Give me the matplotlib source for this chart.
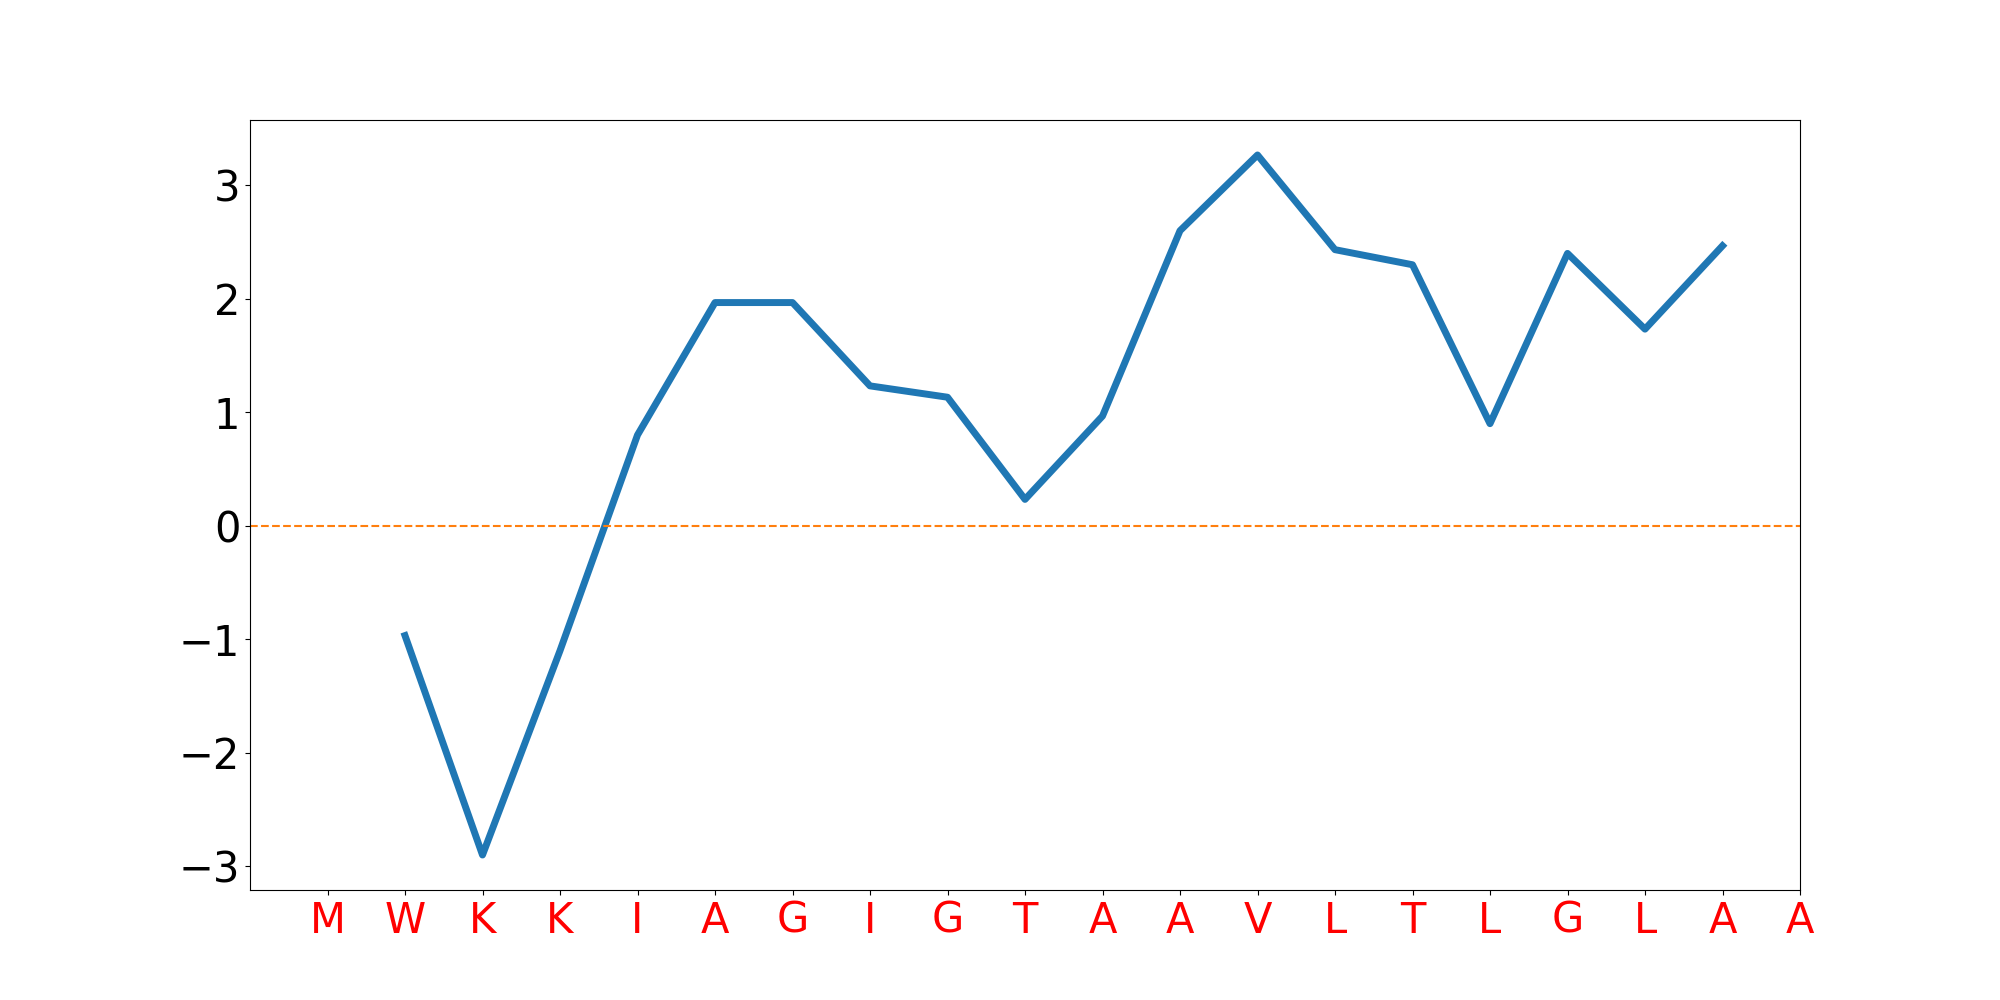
import numpy as np
import matplotlib
matplotlib.use('Agg')
import matplotlib.pyplot as plt

# sequence shown on the x axis
seq = ['M', 'W', 'K', 'K', 'I', 'A', 'G', 'I', 'G', 'T',
       'A', 'A', 'V', 'L', 'T', 'L', 'G', 'L', 'A', 'A']

# hydropathy profile (window 3), positions 2..19
pos = [2, 3, 4, 5, 6, 7, 8, 9, 10, 11, 12, 13, 14, 15, 16, 17, 18, 19]
score = [-0.967, -2.9, -1.1, 0.8, 1.967, 1.967, 1.233, 1.133, 0.233,
         0.967, 2.6, 3.267, 2.433, 2.3, 0.9, 2.4, 1.733, 2.467]

fig, ax = plt.subplots(figsize=(20, 10), dpi=100)
ax.plot(pos, score, linewidth=5)
ax.axhline(0, color='C1', linestyle='--', linewidth=1.5)

ax.set_xlim(0, len(seq))
ax.set_xticks(np.arange(1, len(seq) + 1))
ax.set_xticklabels(seq, color='red')
ax.tick_params(axis='both', labelsize=30)

plt.savefig('out.png')
